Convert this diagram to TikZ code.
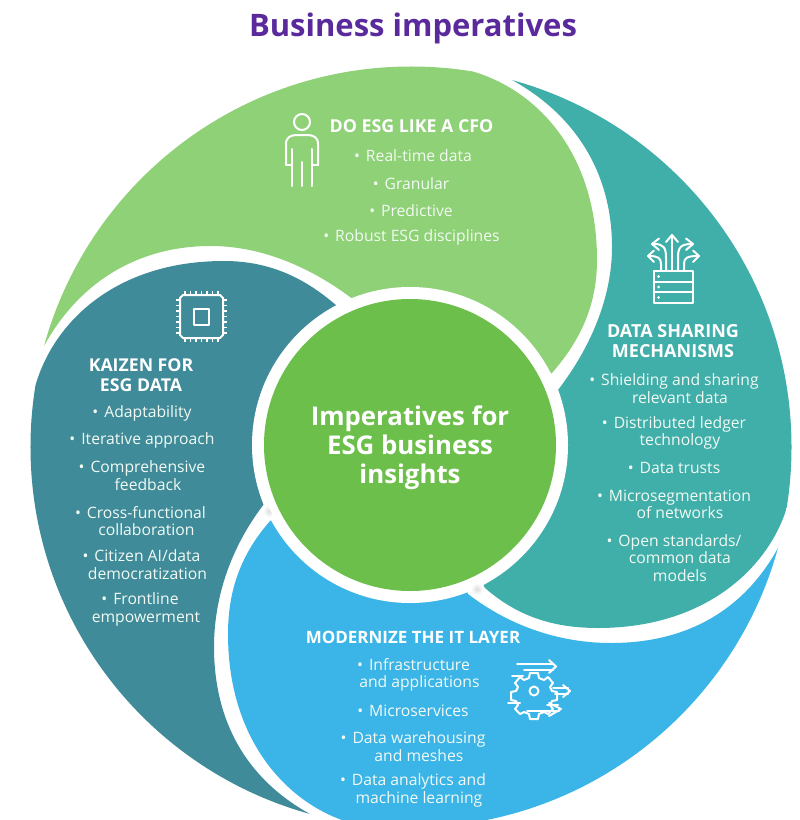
\documentclass[tikz,border=0pt]{standalone}
\usepackage{fontspec}
\setmainfont{Open Sans}
\definecolor{pgreen}{HTML}{8FD176}
\definecolor{pteal}{HTML}{40AEA9}
\definecolor{pdark}{HTML}{3F8B99}
\definecolor{pblue}{HTML}{3BB4E8}
\definecolor{pcentre}{HTML}{6DBF4B}
\definecolor{ptitle}{HTML}{5A2A9C}
\definecolor{soft}{HTML}{F2FAF4}
\newcommand{\blt}{•\hspace{0.38em}}
\newcommand{\cont}{\phantom{\blt}}
\tikzset{
  head/.style={font=\bfseries\fontsize{#1}{20bp}\selectfont,text=white,align=center,inner sep=0pt},
  item/.style={font=\fontsize{15.7bp}{17.6bp}\selectfont,text=soft,align=center,inner sep=0pt,yshift=-0.4bp},
  iconline/.style={draw=white,line width=2bp,line cap=round,line join=round},
  pinline/.style={draw=white,line width=1.5bp},
}
\newcommand{\petal}[4]{%
  \begin{scope}[shift={(411,447)},rotate=#2]
  \fill[#1] (0,0) -- (-57,-147) .. controls (-100,-180) and (-150,-201+#4) .. (-200,-201+#4)
    .. controls (-270,-201+#4) and (-330,-168) .. (-367,-101)
    -- (-390,-63) -- (-500,-60) -- (-500,-500) -- (30,-500) -- (60,-376)
    .. controls (125+#3,-358) and (186+#3,-295) .. (186+#3,-187)
    .. controls (186+#3,-140) and (168,-105) .. (141,-74) -- cycle;
  \end{scope}}
\begin{document}
\begin{tikzpicture}[x=1bp,y=-1bp]
\useasboundingbox (0,0) rectangle (800,820);
\begin{scope}
  \clip (0,0) rectangle (800,820);
  \clip (411,447) circle[radius=380.5bp];
  \petal{pgreen}{0}{0}{0}
  \petal{pteal}{-90}{-5}{0}
  \petal{pblue}{-180}{-3}{5}
  \petal{pdark}{-270}{0}{4}
\end{scope}
\fill[white] (410,445) circle[radius=158bp];
\shade[inner color=black!13,outer color=white] (269,511) circle[radius=6bp];
\shade[inner color=black!13,outer color=white] (477,589) circle[radius=6bp];
\fill[white] (410,445) circle[radius=154bp];
\fill[pcentre] (410,445) circle[radius=146bp];

\node[font=\bfseries\fontsize{31bp}{36bp}\selectfont,text=ptitle,inner sep=0pt] (title) at (413,28) {Business imperatives};
\node[font=\bfseries\fontsize{25.8bp}{29bp}\selectfont,text=white,align=center,inner sep=0pt] (core) at (410,447.5) {Imperatives for\\ESG business\\insights};

\node[head=17.8bp] (h1) at (411.5,126) {DO ESG LIKE A CFO};
\node[item] (a1) at (413,155) {\blt Real-time data};
\node[item] (a2) at (411,183) {\blt Granular};
\node[item] (a3) at (411,210) {\blt Predictive};
\node[item] (a4) at (411.5,237) {\blt Robust ESG disciplines};

\node[head=18bp] (h2) at (673,341) {DATA SHARING\\MECHANISMS};
\node[item] (b1) at (674,388.5) {\blt Shielding and sharing\\\cont relevant data};
\node[item] (b2) at (674,432.5) {\blt Distributed ledger\\\cont technology};
\node[item] (b3) at (674,468) {\blt Data trusts};
\node[item] (b4) at (674,504) {\blt Microsegmentation\\\cont of networks};
\node[item] (b5) at (674,557.5) {\blt Open standards/\\\cont common data\\\cont models};

\node[head=17.7bp] (h3) at (141,375) {KAIZEN FOR\\ESG DATA};
\node[item] (c1) at (142,413) {\blt Adaptability};
\node[item] (c2) at (142,440) {\blt Iterative approach};
\node[item] (c3) at (142,475.5) {\blt Comprehensive\\\cont feedback};
\node[item] (c4) at (140.5,520.5) {\blt Cross-functional\\\cont collaboration};
\node[item] (c5) at (141.5,564.5) {\blt Citizen AI/data\\\cont democratization};
\node[item] (c6) at (140,609) {\blt Frontline\\\cont empowerment};

\node[head=17bp] (h4) at (413,637) {MODERNIZE THE IT LAYER};
\node[item] (d1) at (413.5,674.5) {\blt Infrastructure\\\cont and applications};
\node[item] (d2) at (413,710) {\blt Microservices};
\node[item] (d3) at (413,746) {\blt Data warehousing\\\cont and meshes};
\node[item] (d4) at (413,790) {\blt Data analytics and\\\cont machine learning};

% person icon
\draw[iconline] (302,122) circle[radius=8bp];
\draw[iconline] (286,165) -- (286,144) .. controls (286,137) and (291,135) .. (297,135) -- (307,135) .. controls (313,135) and (318,137) .. (318,144) -- (318,165);
\draw[iconline] (292,149) -- (292,186);
\draw[iconline] (312,149) -- (312,186);
\draw[iconline] (302,162) -- (302,186);
\draw[iconline] (286,165) -- (292,165);
\draw[iconline] (318,165) -- (312,165);

% data icon
\draw[iconline] (653.5,271) rectangle (692.5,303);
\draw[iconline] (653.5,281.5) -- (692.5,281.5);
\draw[iconline] (653.5,292) -- (692.5,292);
\fill[white] (658.5,276.5) circle[radius=1.5bp] (658.5,287) circle[radius=1.5bp] (658.5,297.5) circle[radius=1.5bp];
\draw[iconline] (672,270) -- (672,236);
\draw[iconline] (666,242) -- (672,235) -- (678,242);
\draw[iconline] (666,270) -- (666,258) .. controls (666,248) and (664,244) .. (654,244);
\draw[iconline] (659,238.5) -- (652,244) -- (659,250);
\draw[iconline] (678,270) -- (678,258) .. controls (678,248) and (680,244) .. (692,244);
\draw[iconline] (686,238.5) -- (693,244) -- (686,250);
\draw[iconline] (661,270) -- (661,264) .. controls (661,258) and (658,256) .. (649,256);
\draw[iconline] (654,250.5) -- (648,256) -- (654,262);
\draw[iconline] (684,270) -- (684,264) .. controls (684,258) and (687,256) .. (698,256);
\draw[iconline] (693,250.5) -- (699,256) -- (693,262);

% gear icon
\draw[iconline] (534,691) circle[radius=4.5bp];
\draw[iconline] (530,673) -- (538,673) -- (539,678) -- (544,680) -- (548,677) -- (553,683) -- (550,687) -- (552,691) -- (557,692) -- (557,700) -- (552,701) -- (550,705) -- (553,709) -- (548,714) -- (544,712) -- (539,714) -- (538,719) -- (530,719) -- (529,714) -- (524,712) -- (520,714) -- (515,709) -- (518,705) -- (516,701) -- (511,700) -- (511,692) -- (516,691) -- (518,687) -- (515,683) -- (520,677) -- (524,680) -- (529,678) -- cycle;
\draw[iconline] (517,663.5) -- (553,663.5);
\draw[iconline] (524,669.5) -- (553,669.5);
\draw[iconline] (549,660) -- (556,666.5) -- (549,673);
\draw[iconline] (512,676) -- (523,676);
\draw[iconline] (553,688) -- (568,688);
\draw[iconline] (555,694) -- (568,694);
\draw[iconline] (563,685) -- (570,691) -- (563,697);
\draw[iconline] (508,703) -- (520,703);
\draw[iconline] (547,705) -- (558,705);
\draw[iconline] (527,711) -- (559,711);
\draw[iconline] (549,703) -- (561,709) -- (549,716);

% chip icon
\draw[iconline] (183,295) -- (220,295) -- (223,298) -- (223,335) -- (220,338) -- (183,338) -- (180,335) -- (180,298) -- cycle;
\draw[iconline] (193.5,308.5) rectangle (209,324.5);
\foreach \k in {0,...,6} {
  \draw[pinline] (185+\k*5.5,291) -- (185+\k*5.5,295);
  \draw[pinline] (185+\k*5.5,338) -- (185+\k*5.5,342);
  \draw[pinline] (176,300+\k*5.5) -- (180,300+\k*5.5);
  \draw[pinline] (223,300+\k*5.5) -- (227,300+\k*5.5);
}
\end{tikzpicture}
\end{document}
